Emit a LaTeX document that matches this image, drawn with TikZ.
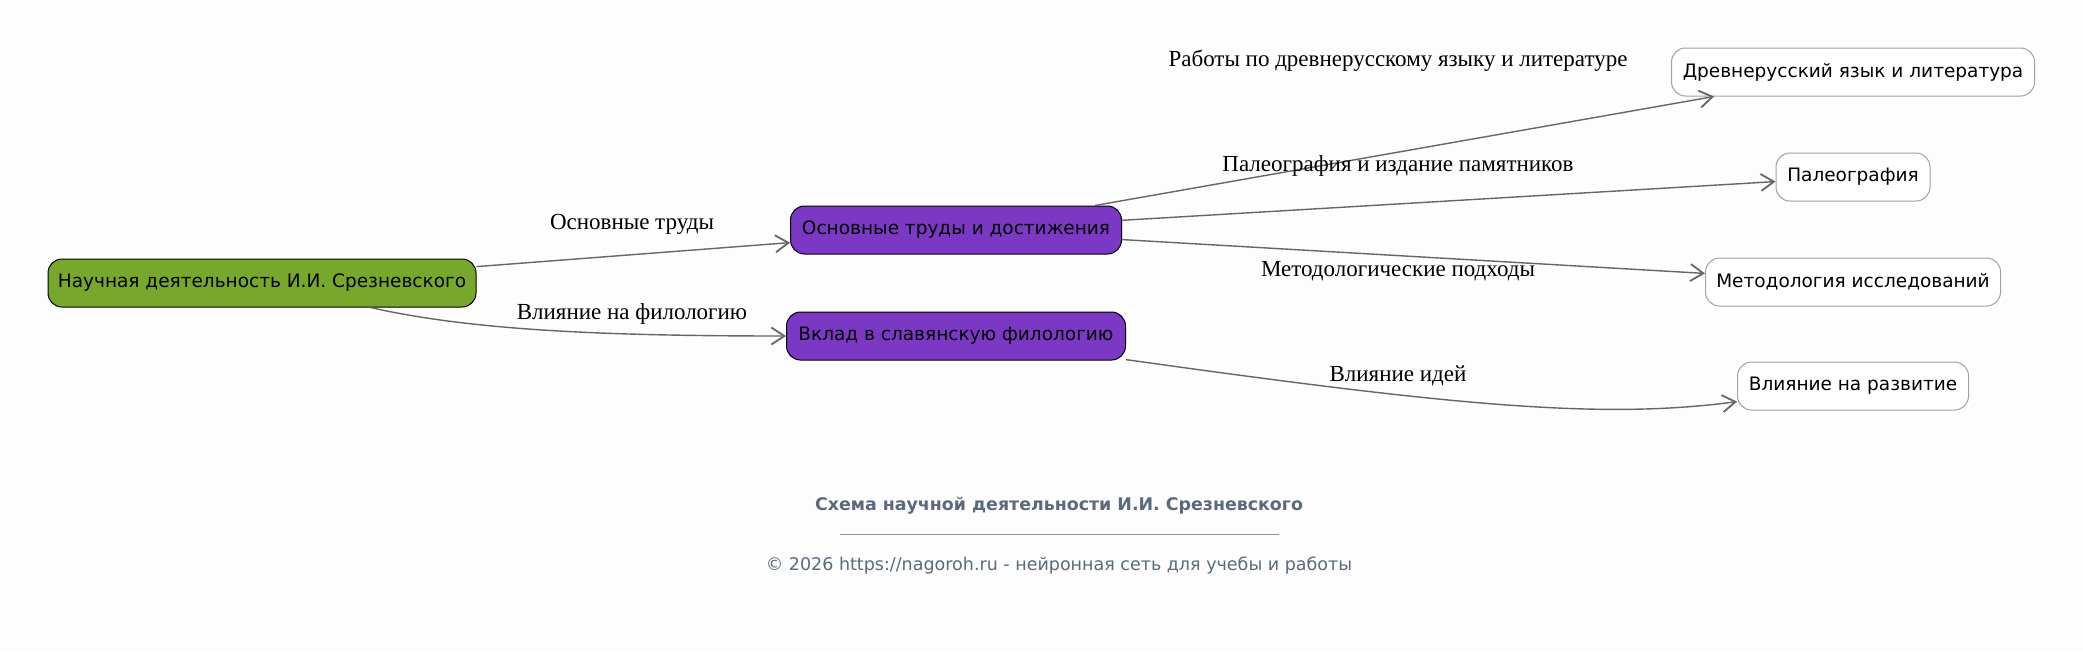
\documentclass[tikz,border=0pt]{standalone}
\usepackage{fontspec}
\setmainfont{Liberation Serif}
\setsansfont{DejaVu Sans}
\usetikzlibrary{positioning}
\usetikzlibrary{arrows.meta}
\definecolor{GREEN}{HTML}{78A82B}
\definecolor{PURPLE}{HTML}{7B38C4}
\definecolor{EDGE}{HTML}{666666}
\definecolor{LEAF}{HTML}{A0A0A0}
\definecolor{SLATE}{HTML}{5A6A7C}
\definecolor{BACK}{HTML}{FDFDFD}
\tikzset{
	every node/.style = {font=\fontsize{23}{26}\selectfont},
	box/.style = {draw, rounded corners=14pt, minimum height=48pt, line width=1pt,
		inner xsep=0pt, font=\sffamily\fontsize{18.5}{22}\selectfont},
	rootbox/.style = {box, fill=GREEN, draw=black},
	mainbox/.style = {box, fill=PURPLE, draw=black},
	leafbox/.style = {box, fill=white, draw=LEAF},
	link/.style = {draw=EDGE, line width=1.4pt,
		-{Straight Barb[length=13pt, width=17pt, line width=1.8pt]}}
}

\begin{document}
\begin{tikzpicture}[x=1pt, y=-1pt]
		% background
		\fill[BACK] (0,0) rectangle (2083,651);
		\useasboundingbox (0,0) rectangle (2083,651);
		% nodes
		\node[rootbox, minimum width=428pt] (root) at (262,283) {Научная деятельность И.И. Срезневского};
		\node[mainbox, minimum width=331pt] (works) at (956,230) {Основные труды и достижения};
		\node[mainbox, minimum width=339pt] (contrib) at (956,336) {Вклад в славянскую филологию};
		\node[leafbox, minimum width=363pt] (oldrus) at (1853,72) {Древнерусский язык и литература};
		\node[leafbox, minimum width=154pt] (paleo) at (1853,177) {Палеография};
		\node[leafbox, minimum width=295pt] (method) at (1853,282) {Методология исследований};
		\node[leafbox, minimum width=231pt] (impact) at (1853,386) {Влияние на развитие};
		% edges
		\draw[link] (root) -- (works);
		\draw[link] (root) .. controls (470,330) and (600,336) .. (contrib);
		\draw[link] (works) -- (oldrus);
		\draw[link] (works) -- (paleo);
		\draw[link] (works) -- (method);
		\draw[link] (contrib) .. controls (1450,405) and (1600,420) .. (impact);
		% edge labels
		\node (lworks) at (632,224) {Основные труды};
		\node (lcontrib) at (632,314) {Влияние на филологию};
		\node (loldrus) at (1398,61) {Работы по древнерусскому языку и литературе};
		\node (lpaleo) at (1398,166) {Палеография и издание памятников};
		\node (lmethod) at (1398,271) {Методологические подходы};
		\node (limpact) at (1398,376) {Влияние идей};
		% caption
		\node[text=SLATE, font=\sffamily\bfseries\fontsize{17.4}{20}\selectfont] (title) at (1059,506) {Схема научной деятельности И.И. Срезневского};
		\draw[SLATE!70, line width=1pt] (840,534) -- (1279,534);
		\node[text=SLATE, font=\sffamily\fontsize{17.5}{20}\selectfont] (footer) at (1059,566) {© 2026 https://nagoroh.ru - нейронная сеть для учебы и работы};
	\end{tikzpicture}
\end{document}
